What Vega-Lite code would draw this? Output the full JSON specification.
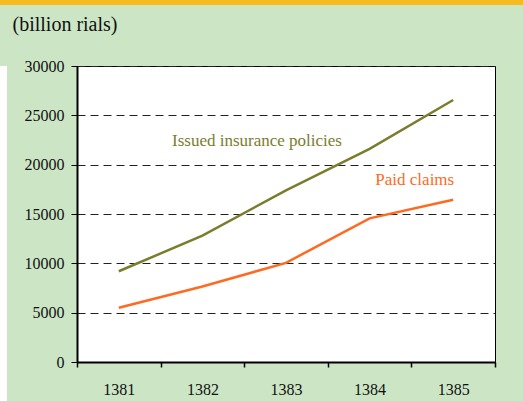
{
  "$schema": "https://vega.github.io/schema/vega-lite/v6.json",
  "padding": 0,
  "background": "#cce6c5",
  "spacing": 8,
  "config": {
    "font": "Liberation Serif",
    "axis": {"labelFont": "Liberation Serif", "titleFont": "Liberation Serif"},
    "text": {"font": "Liberation Serif"}
  },
  "vconcat": [
    {
      "width": 523,
      "height": 5,
      "data": {"values": [{}]},
      "view": {"fill": "#f6bb1e", "stroke": null},
      "mark": {"type": "rect", "color": "#f6bb1e"},
      "encoding": {}
    },
    {
      "spacing": 4,
      "hconcat": [
        {
          "width": 7,
          "height": 400,
          "data": {"values": [{}]},
          "view": {"fill": "white", "stroke": null},
          "mark": {"type": "rect", "color": "white"},
          "encoding": {}
        },
        {
          "width": 418,
          "height": 296,
          "view": {"fill": "white", "stroke": "black", "strokeWidth": 1},
          "data": {
            "values": [
              {"year": "1381", "series": "Issued insurance policies", "value": 9200},
              {"year": "1382", "series": "Issued insurance policies", "value": 12800},
              {"year": "1383", "series": "Issued insurance policies", "value": 17400},
              {"year": "1384", "series": "Issued insurance policies", "value": 21600},
              {"year": "1385", "series": "Issued insurance policies", "value": 26550},
              {"year": "1381", "series": "Paid claims", "value": 5500},
              {"year": "1382", "series": "Paid claims", "value": 7650},
              {"year": "1383", "series": "Paid claims", "value": 10050},
              {"year": "1384", "series": "Paid claims", "value": 14560},
              {"year": "1385", "series": "Paid claims", "value": 16450}
            ]
          },
          "encoding": {
            "x": {
              "field": "year",
              "type": "ordinal",
              "scale": {"type": "band", "paddingInner": 0, "paddingOuter": 0},
              "axis": {
                "title": null,
                "labelAngle": 0,
                "tickBand": "extent",
                "grid": false,
                "domainColor": "black",
                "domainWidth": 2,
                "tickColor": "black",
                "tickWidth": 1.5,
                "tickSize": 5,
                "labelFont": "Liberation Serif",
                "labelFontSize": 16,
                "labelColor": "#111",
                "labelPadding": 14
              }
            },
            "y": {
              "field": "value",
              "type": "quantitative",
              "scale": {"domain": [0, 30000], "nice": false},
              "axis": {
                "values": [0, 5000, 10000, 15000, 20000, 25000, 30000],
                "format": "d",
                "grid": true,
                "gridDash": [8, 5],
                "gridColor": "#222",
                "gridWidth": 1,
                "domainColor": "black",
                "domainWidth": 2,
                "tickColor": "black",
                "tickSize": 6,
                "labelFont": "Liberation Serif",
                "labelFontSize": 16,
                "labelColor": "#111",
                "labelPadding": 7,
                "title": "(billion rials)",
                "titleFont": "Liberation Serif",
                "titleAngle": 0,
                "titleX": -65,
                "titleY": -36,
                "titleAlign": "left",
                "titleBaseline": "alphabetic",
                "titleFontSize": 20,
                "titleFontWeight": "normal",
                "titleColor": "#111"
              }
            }
          },
          "layer": [
            {
              "mark": {"type": "line", "strokeWidth": 2.5},
              "encoding": {
                "color": {
                  "field": "series",
                  "type": "nominal",
                  "scale": {
                    "domain": ["Issued insurance policies", "Paid claims"],
                    "range": ["#7b7d2e", "#ff6a22"]
                  },
                  "legend": null
                }
              }
            },
            {
              "data": {
                "values": [
                  {"year": "1383", "value": 21900, "label": "Issued insurance policies", "series": "Issued insurance policies"}
                ]
              },
              "mark": {"type": "text", "font": "Liberation Serif", "fontSize": 17, "align": "center", "baseline": "alphabetic", "dx": -29},
              "encoding": {
                "text": {"field": "label"},
                "color": {"field": "series", "type": "nominal", "legend": null}
              }
            },
            {
              "data": {
                "values": [
                  {"year": "1385", "value": 17900, "label": "Paid claims", "series": "Paid claims"}
                ]
              },
              "mark": {"type": "text", "font": "Liberation Serif", "fontSize": 17, "align": "right", "baseline": "alphabetic", "dx": 1},
              "encoding": {
                "text": {"field": "label"},
                "color": {"field": "series", "type": "nominal", "legend": null}
              }
            }
          ]
        }
      ]
    }
  ]
}
